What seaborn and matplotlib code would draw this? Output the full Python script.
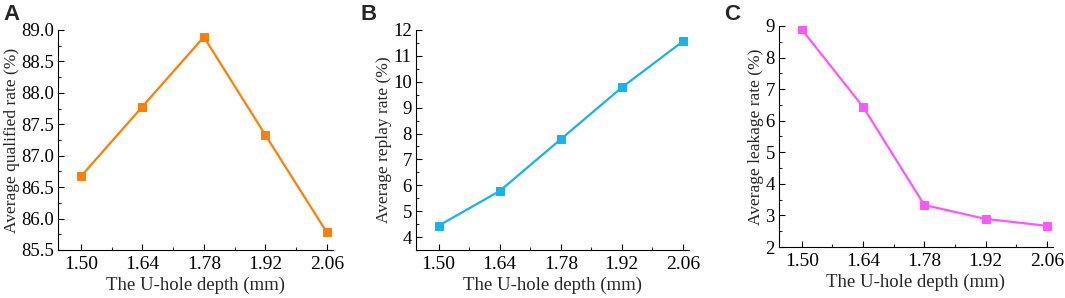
import numpy as np
import pandas as pd
import seaborn as sns
import matplotlib
matplotlib.use("Agg")
import matplotlib.pyplot as plt
from matplotlib.ticker import AutoMinorLocator, FixedLocator

depth = [1.50, 1.64, 1.78, 1.92, 2.06]
qualified = [86.67, 87.78, 88.89, 87.33, 85.78]
replay = [4.44, 5.78, 7.78, 9.78, 11.56]
leakage = [8.89, 6.44, 3.33, 2.89, 2.67]
xticklabels = ["1.50", "1.64", "1.78", "1.92", "2.06"]

sns.set_theme(style="ticks")
plt.rcParams['font.family'] = ['Liberation Serif', 'DejaVu Serif']
plt.rcParams['xtick.direction'] = 'in'
plt.rcParams['ytick.direction'] = 'in'

fig = plt.figure(figsize=(10.65, 2.98), dpi=100)
W, H = 1065, 298
# axes boxes in pixels: (left, bottom_y, right, top_y)
boxes = [(58, 250, 333, 30), (416, 250, 689, 30), (779, 247, 1053, 26)]
panels = [
    ("A", qualified, "Average qualified rate (%)", "#FF8000", (85.5, 89.0), np.arange(85.5, 89.01, 0.5), "{:.1f}"),
    ("B", replay, "Average replay rate (%)", "#14B4EE", (3.5, 12.0), np.arange(4, 12.01, 1), "{:.0f}"),
    ("C", leakage, "Average leakage rate (%)", "#FF55FF", (2.0, 9.0), np.arange(2, 9.01, 1), "{:.0f}"),
]
for (l, b, r, t), (letter, vals, ylab, col, ylim, yt, fmt) in zip(boxes, panels):
    ax = fig.add_axes([l / W, 1 - b / H, (r - l) / W, (b - t) / H])
    df = pd.DataFrame({"depth": depth, "val": vals})
    sns.lineplot(data=df, x="depth", y="val", ax=ax, color=col, marker="s",
                 markersize=6, markeredgecolor=col, linewidth=1.6)
    ax.set_xlim(1.448, 2.074)
    ax.set_ylim(*ylim)
    ax.set_xticks(depth)
    ax.set_xticklabels(xticklabels)
    ax.set_yticks(yt)
    ax.set_yticklabels([fmt.format(v) for v in yt])
    ax.xaxis.set_minor_locator(FixedLocator([1.57, 1.71, 1.85, 1.99]))
    ax.yaxis.set_minor_locator(AutoMinorLocator(2))
    ax.tick_params(which="major", length=4, width=0.8, colors="black", pad=4)
    ax.tick_params(axis="x", labelsize=14)
    ax.tick_params(axis="y", labelsize=13.5, pad=3)
    ax.tick_params(which="minor", length=2, width=0.8)
    for s in ["top", "right"]:
        ax.spines[s].set_visible(False)
    for s in ["left", "bottom"]:
        ax.spines[s].set_color("black")
        ax.spines[s].set_linewidth(0.8)
    ax.set_xlabel("The U-hole depth (mm)", fontsize=13.5, labelpad=3)
    ax.set_ylabel(ylab, fontsize=12.5, labelpad=1)
    fig.text((l - 55) / W, 1 - 14 / H, letter, fontsize=16, fontweight="bold",
             family="Liberation Sans", va="center", ha="left")

fig.savefig("out.png", dpi=100)
